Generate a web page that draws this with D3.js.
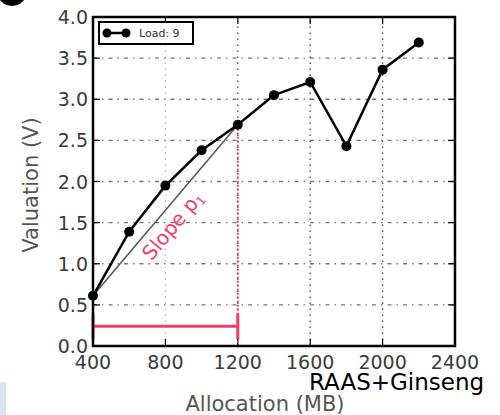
<!DOCTYPE html>
<html>
<head>
<meta charset="utf-8">
<script src="https://cdn.jsdelivr.net/npm/d3@7"></script>
<style>
  html, body { margin: 0; padding: 0; background: #fff; }
  svg { display: block; font-family: 'DejaVu Sans', sans-serif; }
</style>
</head>
<body>
<div id="chart"></div>
<script>
const allocation = [400, 600, 800, 1000, 1200, 1400, 1600, 1800, 2000, 2200];
const valuation  = [0.61, 1.39, 1.95, 2.38, 2.69, 3.05, 3.21, 2.43, 3.36, 3.69];
const xTicks = [400, 800, 1200, 1600, 2000, 2400];
const yTicks = [0, 0.5, 1.0, 1.5, 2.0, 2.5, 3.0, 3.5, 4.0];
const slopeFrom = [400, 0.61];
const slopeTo   = [1200, 2.69];
const spanY = 0.24;

const W = 500, H = 415;
const RED = '#f0406a';
const margin = { left: 93, right: 45, top: 17, bottom: 69 };

const svg = d3.select('#chart').append('svg')
  .attr('width', W).attr('height', H);

// Decorations from the clipped figure
svg.append('circle').attr('cx', 12).attr('cy', -9).attr('r', 15).attr('fill', '#000');
svg.append('rect').attr('x', 0).attr('y', 382).attr('width', 6).attr('height', 33).attr('fill', '#d5e6f0');

const x = d3.scaleLinear().domain([400, 2400]).range([margin.left, W - margin.right]);
const y = d3.scaleLinear().domain([0, 4]).range([H - margin.bottom, margin.top]);

// ── Grid ──────────────────────────────────────────────────────────────────
svg.append('g').selectAll('line')
  .data(yTicks.slice(1, -1))
  .join('line')
  .attr('x1', x(400)).attr('x2', x(2400))
  .attr('y1', d => y(d)).attr('y2', d => y(d))
  .attr('stroke', '#777').attr('stroke-width', 1.3)
  .attr('stroke-dasharray', '4,5,1.5,5');

svg.append('g').selectAll('line')
  .data(xTicks.slice(1, -1))
  .join('line')
  .attr('x1', d => x(d)).attr('x2', d => x(d))
  .attr('y1', y(0)).attr('y2', y(4))
  .attr('stroke', d => d === 800 ? '#bbb' : '#444').attr('stroke-width', 1.3)
  .attr('stroke-dasharray', '1.5,4.5');

// ── Ticks (inside, on all four sides) ─────────────────────────────────────
const tk = svg.append('g').attr('stroke', '#000').attr('stroke-width', 1.2);
yTicks.forEach(v => {
  tk.append('line').attr('x1', x(400)).attr('x2', x(400) + 7).attr('y1', y(v)).attr('y2', y(v));
  tk.append('line').attr('x1', x(2400)).attr('x2', x(2400) - 7).attr('y1', y(v)).attr('y2', y(v));
});
xTicks.forEach(v => {
  tk.append('line').attr('x1', x(v)).attr('x2', x(v)).attr('y1', y(0)).attr('y2', y(0) - 7);
  tk.append('line').attr('x1', x(v)).attr('x2', x(v)).attr('y1', y(4)).attr('y2', y(4) + 7);
});

// ── Annotations ───────────────────────────────────────────────────────────
svg.append('line')
  .attr('x1', x(slopeFrom[0])).attr('y1', y(slopeFrom[1]))
  .attr('x2', x(slopeTo[0])).attr('y2', y(slopeTo[1]))
  .attr('stroke', '#555').attr('stroke-width', 1.5);

svg.append('line')
  .attr('x1', x(slopeTo[0])).attr('x2', x(slopeTo[0]))
  .attr('y1', y(slopeTo[1])).attr('y2', y(0))
  .attr('stroke', RED).attr('stroke-width', 2)
  .attr('stroke-dasharray', '2,2');

const span = svg.append('g').attr('stroke', RED).attr('stroke-width', 3);
span.append('line')
  .attr('x1', x(slopeFrom[0])).attr('x2', x(slopeTo[0]))
  .attr('y1', y(spanY)).attr('y2', y(spanY));
[slopeFrom[0], slopeTo[0]].forEach(v => {
  span.append('line').attr('x1', x(v)).attr('x2', x(v))
    .attr('y1', y(spanY) - 13).attr('y2', y(spanY) + 13);
});

const slopeLabel = svg.append('text')
  .attr('transform', 'translate(178,230) rotate(-50)')
  .attr('text-anchor', 'middle')
  .attr('fill', RED).attr('font-size', 20);
slopeLabel.append('tspan').text('Slope p');
slopeLabel.append('tspan').attr('font-size', 12).attr('dy', 3).text('1');

// ── Data ──────────────────────────────────────────────────────────────────
const pts = allocation.map((a, i) => [a, valuation[i]]);
svg.append('path')
  .datum(pts)
  .attr('d', d3.line().x(d => x(d[0])).y(d => y(d[1])))
  .attr('fill', 'none').attr('stroke', '#000').attr('stroke-width', 2.5);
svg.append('g').selectAll('circle')
  .data(pts)
  .join('circle')
  .attr('cx', d => x(d[0])).attr('cy', d => y(d[1]))
  .attr('r', 5).attr('fill', '#000');

// ── Frame ─────────────────────────────────────────────────────────────────
svg.append('rect')
  .attr('x', x(400)).attr('y', y(4))
  .attr('width', x(2400) - x(400)).attr('height', y(0) - y(4))
  .attr('fill', 'none').attr('stroke', '#000').attr('stroke-width', 2.5);

// ── Legend ────────────────────────────────────────────────────────────────
const lg = svg.append('g').attr('transform', 'translate(99,22)');
lg.append('rect').attr('width', 94).attr('height', 22)
  .attr('fill', '#fff').attr('stroke', '#000').attr('stroke-width', 2);
lg.append('line').attr('x1', 6).attr('x2', 28).attr('y1', 11).attr('y2', 11)
  .attr('stroke', '#000').attr('stroke-width', 2.5);
[8, 27].forEach(cx => lg.append('circle').attr('cx', cx).attr('cy', 11).attr('r', 4.5).attr('fill', '#000'));
lg.append('text').attr('x', 40).attr('y', 15).attr('font-size', 11).attr('fill', '#333').text('Load: 9');

// ── Tick labels ───────────────────────────────────────────────────────────
svg.append('g').selectAll('text')
  .data(yTicks)
  .join('text')
  .attr('x', x(400) - 5).attr('y', d => y(d) + 7)
  .attr('text-anchor', 'end').attr('font-size', 19).attr('fill', '#3a3a3a')
  .text(d => d3.format('.1f')(d));

svg.append('g').selectAll('text')
  .data(xTicks)
  .join('text')
  .attr('x', d => x(d)).attr('y', y(0) + 23)
  .attr('text-anchor', 'middle').attr('font-size', 19).attr('fill', '#3a3a3a')
  .text(d => d);

// ── Axis titles ───────────────────────────────────────────────────────────
svg.append('text')
  .attr('x', 265).attr('y', 411)
  .attr('text-anchor', 'middle').attr('font-size', 21).attr('fill', '#555')
  .text('Allocation (MB)');

svg.append('text')
  .attr('transform', 'translate(38,185) rotate(-90)')
  .attr('text-anchor', 'middle').attr('font-size', 21).attr('fill', '#555')
  .text('Valuation (V)');

svg.append('text')
  .attr('x', 309).attr('y', 390)
  .attr('font-size', 23).attr('fill', '#000')
  .text('RAAS+Ginseng');
</script>
</body>
</html>
